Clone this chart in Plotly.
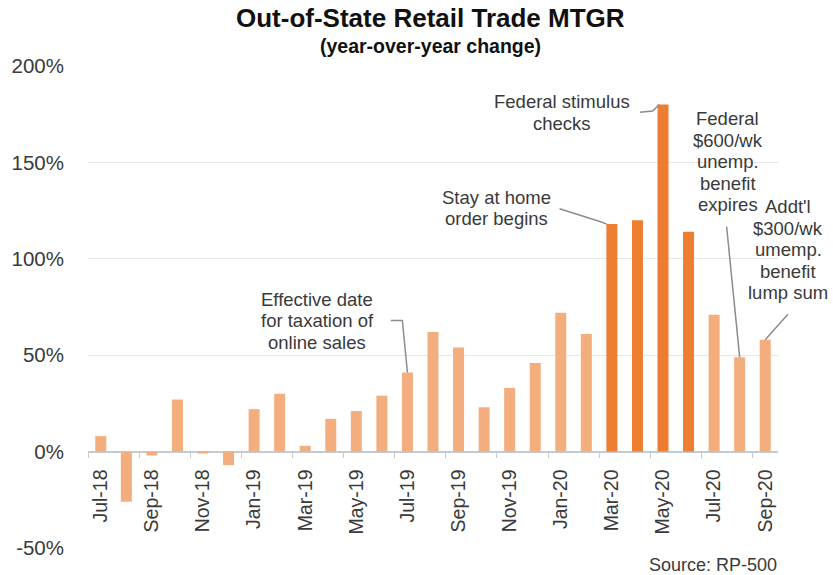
import plotly.graph_objects as go

months = ["Jul-18", "Aug-18", "Sep-18", "Oct-18", "Nov-18", "Dec-18",
          "Jan-19", "Feb-19", "Mar-19", "Apr-19", "May-19", "Jun-19",
          "Jul-19", "Aug-19", "Sep-19", "Oct-19", "Nov-19", "Dec-19",
          "Jan-20", "Feb-20", "Mar-20", "Apr-20", "May-20", "Jun-20",
          "Jul-20", "Aug-20", "Sep-20"]
growth = [8, -26, -2, 27, -1, -7,
          22, 30, 3, 17, 21, 29,
          41, 62, 54, 23, 33, 46,
          72, 61, 118, 120, 180, 114,
          71, 49, 58]
pandemic = ["Mar-20", "Apr-20", "May-20", "Jun-20"]
y_ticks = [-50, 0, 50, 100, 150, 200]
y_labels = ["-50%", "0%", "50%", "100%", "150%", "200%"]

LIGHT = "#F4AD7C"
DARK = "#ED7D31"
TXT = "#3A3A3A"
LEAD = "#8C8C8C"
FONT = "Liberation Sans, Arial, sans-serif"

xs = list(range(len(months)))
colors = [DARK if m in pandemic else LIGHT for m in months]
idx = {m: i for i, m in enumerate(months)}

fig = go.Figure()
fig.add_trace(go.Bar(x=xs, y=growth, marker_color=colors, marker_line_width=0,
                     showlegend=False, hoverinfo="skip"))
# invisible trace so the boundary-tick axis gets drawn
fig.add_trace(go.Scatter(x=[xs[0]], y=[0], xaxis="x2", mode="markers",
                         marker_opacity=0, showlegend=False, hoverinfo="skip"))

zero_pos = 50 / 250

fig.update_layout(
    width=833, height=575,
    margin=dict(l=80, r=55, t=66, b=27),
    paper_bgcolor="white", plot_bgcolor="white",
    font=dict(family=FONT, color=TXT),
    bargap=0.57,
    xaxis=dict(range=[-0.5, len(months) - 0.5],
               tickmode="array", tickvals=xs[::2], ticktext=months[::2],
               tickangle=-90, ticks="", showgrid=False, zeroline=False,
               showline=False, anchor="free", position=zero_pos,
               tickfont=dict(size=19.5, color=TXT), ticklabelstandoff=13),
    xaxis2=dict(overlaying="x", matches="x", anchor="free", position=zero_pos,
                tickmode="array", tickvals=[i - 0.5 for i in xs[::2]],
                ticks="outside", ticklen=5, tickcolor="#C3CAD3", tickwidth=1,
                showticklabels=False, showgrid=False, zeroline=False,
                showline=False),
    yaxis=dict(range=[y_ticks[0], y_ticks[-1]],
               tickmode="array", tickvals=y_ticks, ticktext=y_labels,
               gridcolor="#E7E7E7", gridwidth=1,
               zeroline=True, zerolinecolor="#C3CAD3", zerolinewidth=1.5,
               showline=False, ticks="",
               tickfont=dict(size=20.5, color=TXT), ticklabelstandoff=23),
)

# titles and source
fig.add_annotation(text="<b>Out-of-State Retail Trade MTGR</b>", xref="paper", yref="paper",
                   x=0.497, y=1.099, xanchor="center", yanchor="middle",
                   showarrow=False, font=dict(size=26, color="#111111"))
fig.add_annotation(text="<b>(year-over-year change)</b>", xref="paper", yref="paper",
                   x=0.497, y=1.042, xanchor="center", yanchor="middle",
                   showarrow=False, font=dict(size=19.5, color="#111111"))
fig.add_annotation(text="Source: RP-500", xref="paper", yref="paper",
                   x=1.001, y=-0.035, xanchor="right", yanchor="middle",
                   showarrow=False, font=dict(size=18, color=TXT))

# event labels, one annotation per line for tight line spacing
notes = [
    (["Effective date", "for taxation of", "online sales"], 8.47, 68, 0),
    (["Stay at home", "order begins"], 15.48, 126.4, 0),
    (["Federal stimulus", "checks"], 18.03, 176, 0),
    (["Federal", "$600/wk", "unemp.", "benefit", "expires"], 24.53, 150.3, 0),
    (["Addt'l", "$300/wk", "umemp.", "benefit", "lump sum"], 26.4, 104.7, 13),
]
LINE_H = 21.5
for lines, nx, ny, shift in notes:
    n = len(lines)
    for k, line in enumerate(lines):
        fig.add_annotation(text=line, x=nx, y=ny, xanchor="center", yanchor="middle",
                           showarrow=False, xshift=shift,
                           yshift=-(k - (n - 1) / 2) * LINE_H,
                           font=dict(size=18.5, color=TXT))

# leader lines
def leader(points):
    path = "M " + " L ".join(f"{px},{py}" for px, py in points)
    fig.add_shape(type="path", path=path, xref="x", yref="y",
                  line=dict(color=LEAD, width=1.5))

i = idx["Jul-19"]
leader([(11.35, 68), (11.8, 68), (i, growth[i])])
i = idx["Mar-20"]
leader([(17.95, 126), (19.5, 119.5), (i - 0.2, growth[i])])
i = idx["May-20"]
leader([(21.1, 176), (21.6, 176.7), (i - 0.15, growth[i])])
i = idx["Aug-20"]
leader([(24.49, 116.6), (i, growth[i])])
i = idx["Sep-20"]
fig.add_annotation(x=i, y=growth[i], ax=24, ay=-27, text="", showarrow=True,
                   arrowhead=0, arrowwidth=1.5, arrowcolor=LEAD, standoff=0)

# drop the default page margin so the chart fills the window exactly
fig.write_html("out.html", config={"displayModeBar": False},
               post_script="document.body.style.margin='0px';")
